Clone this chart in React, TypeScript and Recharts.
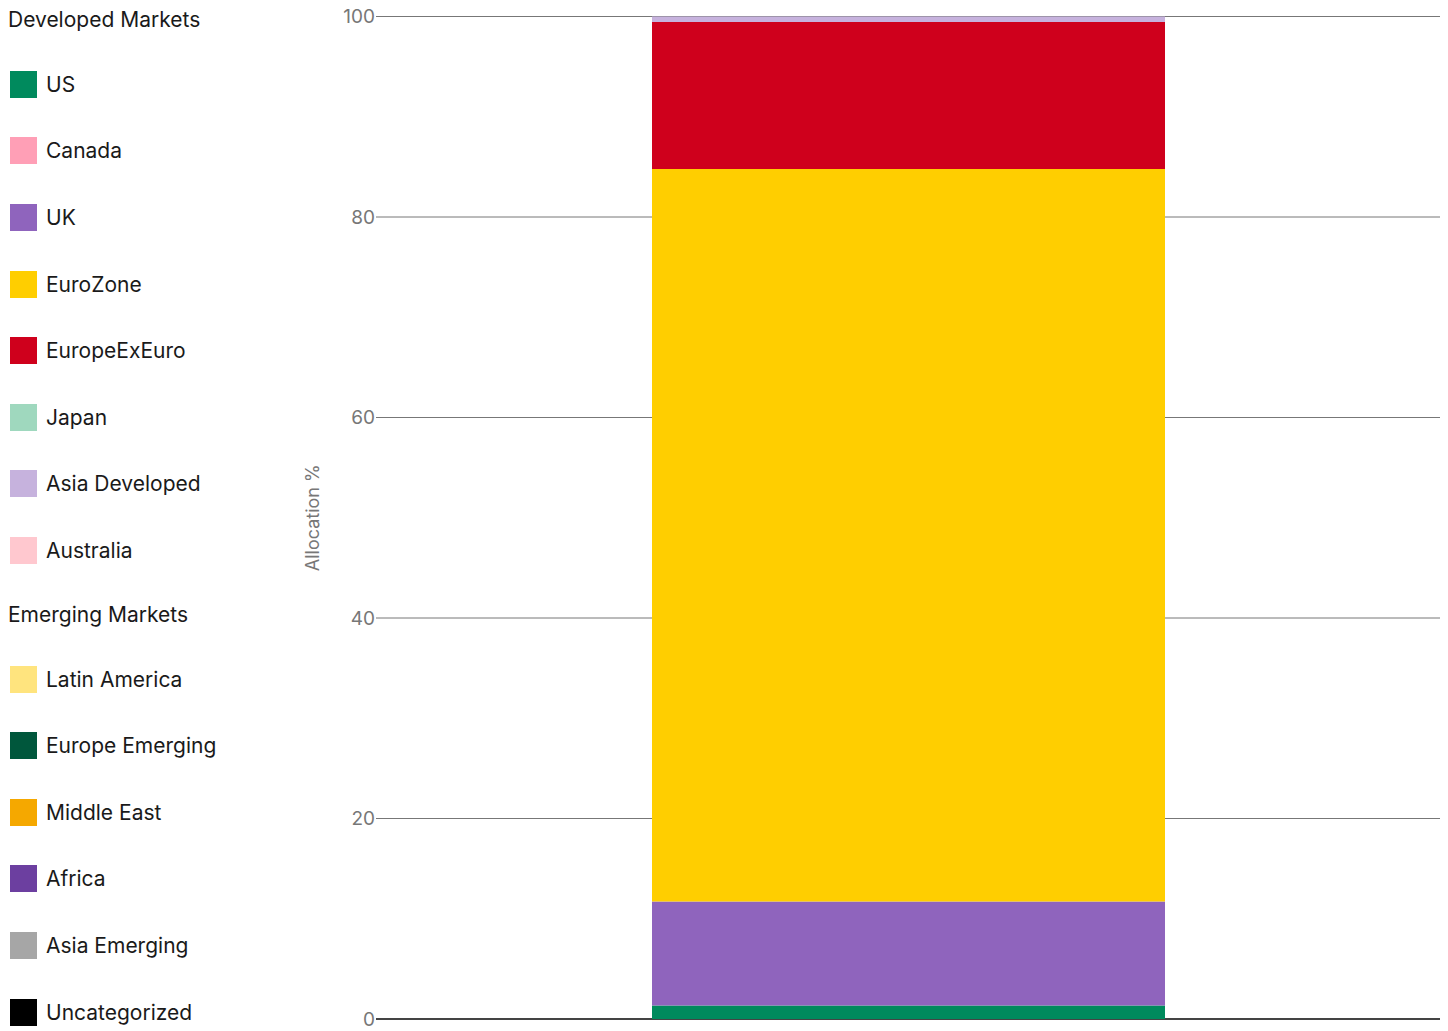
import React from 'react';
import { BarChart, Bar, XAxis, YAxis, CartesianGrid } from 'recharts';

const categories = ['Portfolio'];

const developedNames = ['US', 'Canada', 'UK', 'EuroZone', 'EuropeExEuro', 'Japan', 'Asia Developed', 'Australia'];
const developedColors = ['#008a5d', '#ff9fb6', '#8f64bd', '#ffce00', '#cf001c', '#9fd8be', '#c6b2dd', '#ffc8cf'];
const developedValues = [1.35, 0, 10.37, 73.08, 14.65, 0, 0.55, 0];

const emergingNames = ['Latin America', 'Europe Emerging', 'Middle East', 'Africa', 'Asia Emerging', 'Uncategorized'];
const emergingColors = ['#ffe47e', '#00573c', '#f5a800', '#6c3fa0', '#a6a6a6', '#000000'];
const emergingValues = [0, 0, 0, 0, 0, 0];

const yTicks = [0, 20, 40, 60, 80, 100];

const groups = [
  { title: 'Developed Markets', names: developedNames, colors: developedColors, head: 64 },
  { title: 'Emerging Markets', names: emergingNames, colors: emergingColors, head: 62 },
];

const allNames = [...developedNames, ...emergingNames];
const allColors = [...developedColors, ...emergingColors];
const allValues = [...developedValues, ...emergingValues];

const data = categories.map((c) => {
  const row: Record<string, string | number> = { name: c };
  allNames.forEach((n, i) => {
    row[n] = allValues[i];
  });
  return row;
});

const FONT = 'Inter, "Noto Sans", sans-serif';

const GroupedLegend = () => (
  <div style={{ position: 'absolute', left: 0, top: -13, width: 290, fontFamily: FONT, color: '#1a1a1a', fontSize: 21 }}>
    {groups.map((g) => (
      <div key={g.title}>
        <div style={{ height: g.head, display: 'flex', alignItems: 'center', paddingLeft: 8 }}>{g.title}</div>
        {g.names.map((n, i) => (
          <div key={n} style={{ height: 66.6, display: 'flex', alignItems: 'center' }}>
            <span
              style={{
                display: 'inline-block',
                width: 27,
                height: 27,
                marginLeft: 10,
                marginRight: 9,
                background: g.colors[i],
              }}
            />
            <span>{n}</span>
          </div>
        ))}
      </div>
    ))}
  </div>
);

export default function App() {
  return (
    <div style={{ position: 'absolute', left: 0, top: 0, width: 1448, height: 1031, background: '#fff', overflow: 'hidden' }}>
      <div style={{ position: 'absolute', left: 0, top: 0 }}>
        <BarChart
          width={1440}
          height={1031}
          data={data}
          margin={{ top: 16.5, right: 0, bottom: 12, left: 0 }}
        >
          <CartesianGrid vertical={false} stroke="#777" horizontalValues={[20, 40, 60, 80, 100]} />
          <XAxis dataKey="name" hide />
          <YAxis
            width={376}
            domain={[0, 100]}
            ticks={yTicks}
            axisLine={false}
            tickLine={false}
            tickSize={0}
            tickMargin={1}
            tick={{ fill: '#777', fontSize: 19, fontFamily: FONT }}
            label={{
              value: 'Allocation %',
              angle: -90,
              position: 'insideRight',
              offset: 63,
              style: { fill: '#777', fontSize: 18, fontFamily: FONT, textAnchor: 'middle' },
            }}
          />
          {allNames.map((n, i) => (
            <Bar key={n} dataKey={n} stackId="a" fill={allColors[i]} barSize={513} isAnimationActive={false} />
          ))}
          <CartesianGrid vertical={false} stroke="#444" strokeWidth={2} horizontalValues={[0]} />
        </BarChart>
      </div>
      <GroupedLegend />
    </div>
  );
}
